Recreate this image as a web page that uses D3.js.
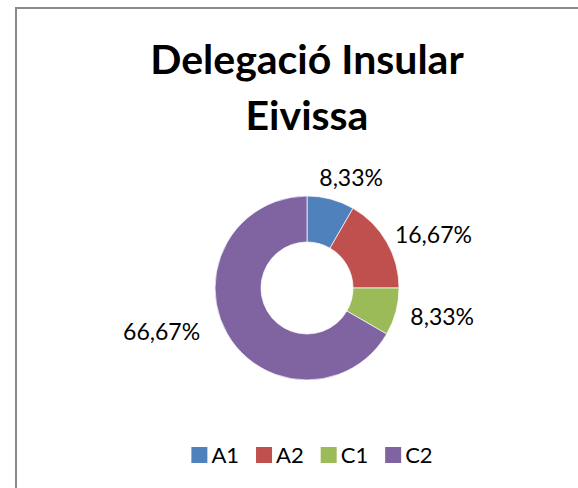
<!DOCTYPE html>
<html>
<head>
<meta charset="utf-8">
<script src="https://cdn.jsdelivr.net/npm/d3@7"></script>
<style>
  html, body { margin: 0; padding: 0; background: #fff; }
  svg { display: block; }
  text { font-family: Lato, "Open Sans", sans-serif; fill: #000; }
</style>
</head>
<body>
<svg id="chart"></svg>
<script>
const titleLines = ["Delegació Insular", "Eivissa"];
const categories = ["A1", "A2", "C1", "C2"];
const values = [1, 2, 1, 8];
const colors = ["#4f81bd", "#c0504d", "#9bbb59", "#8064a2"];

const width = 578,
  height = 488,
  cx = 307,
  cy = 288,
  outerR = 92,
  innerR = 46,
  labelR = 104;

// hand-placed label shifts, as in the original workbook
const labelNudge = [[9, -2], [3, 3], [4, 0], [-22, -12]];

const svg = d3.select("#chart").attr("width", width).attr("height", height);

// chart area border (runs off the right and bottom edge)
svg
  .append("rect")
  .attr("x", 16)
  .attr("y", 8)
  .attr("width", 620)
  .attr("height", 520)
  .attr("fill", "#fff")
  .attr("stroke", "#8a8a8a")
  .attr("stroke-width", 2);

svg
  .selectAll(".title")
  .data(titleLines)
  .enter()
  .append("text")
  .attr("class", "title")
  .attr("x", cx)
  .attr("y", (d, i) => 74 + i * 56)
  .attr("text-anchor", "middle")
  .style("font-size", "41px")
  .style("font-weight", "bold")
  .text(d => d);

const total = d3.sum(values);
const pie = d3.pie().sort(null).value(d => d)(values);
const arc = d3.arc().innerRadius(innerR).outerRadius(outerR);
const fmt = v => d3.format(".2f")((v / total) * 100).replace(".", ",") + "%";

const g = svg.append("g").attr("transform", "translate(" + cx + "," + cy + ")");

g.selectAll("path")
  .data(pie)
  .enter()
  .append("path")
  .attr("d", arc)
  .attr("fill", (d, i) => colors[i])
  .attr("stroke", "#fff")
  .attr("stroke-width", 0.7);

g.selectAll(".lbl")
  .data(pie)
  .enter()
  .append("text")
  .attr("class", "lbl")
  .style("font-size", "23px")
  .attr("text-anchor", "middle")
  .text(d => fmt(d.value))
  .each(function(d, i) {
    const a = (d.startAngle + d.endAngle) / 2,
      w = this.getComputedTextLength(),
      h = 16,
      x = Math.sin(a) * (labelR + w / 2),
      y = -Math.cos(a) * (labelR + h / 2);
    d3.select(this)
      .attr("x", x + labelNudge[i][0])
      .attr("y", y + h / 2 + labelNudge[i][1]);
  });

// legend
const legend = svg.append("g");
let lx = 0;
categories.forEach((c, i) => {
  const item = legend.append("g").attr("transform", "translate(" + lx + ",0)");
  item
    .append("rect")
    .attr("x", 0)
    .attr("y", -16)
    .attr("width", 16)
    .attr("height", 16)
    .attr("fill", colors[i]);
  const t = item
    .append("text")
    .attr("x", 20)
    .attr("y", 0)
    .style("font-size", "22px")
    .text(c);
  lx += 20 + t.node().getComputedTextLength() + 17;
});
lx -= 17;
legend.attr("transform", "translate(" + (312 - lx / 2) + ",463)");
</script>
</body>
</html>
